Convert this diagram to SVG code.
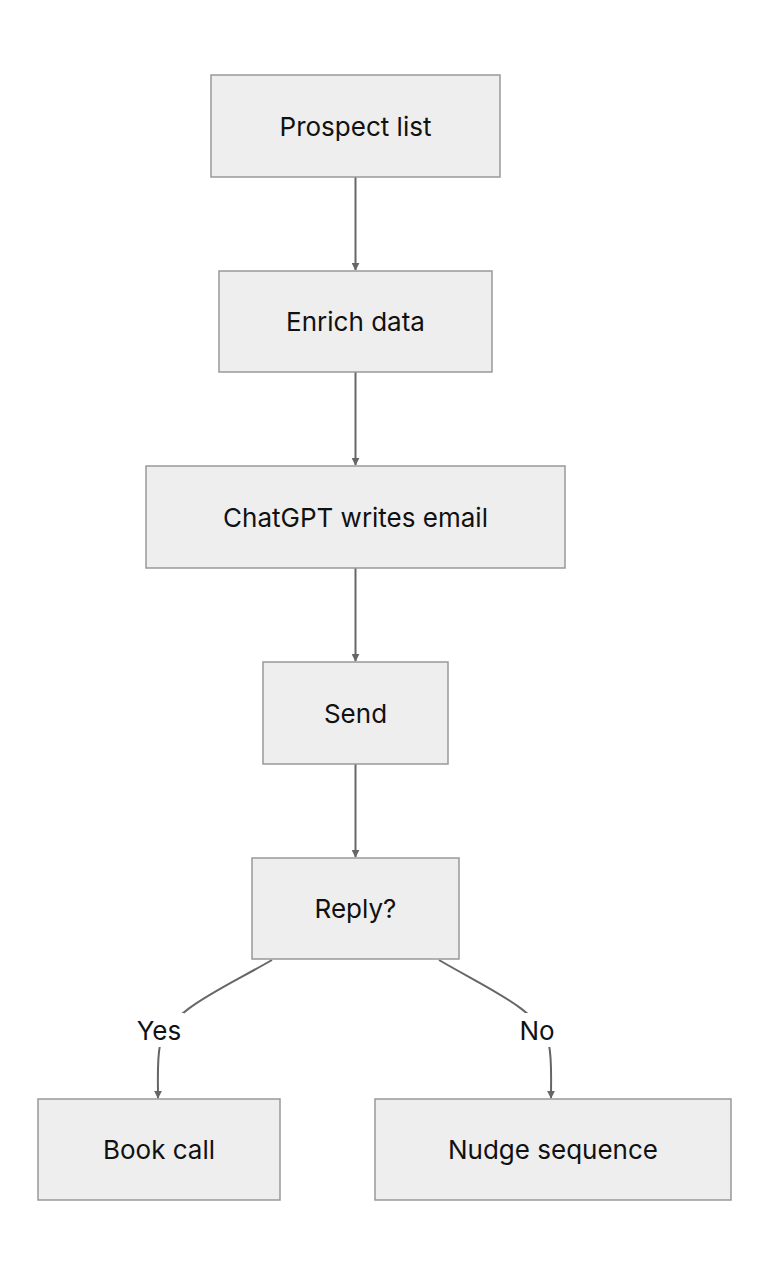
<svg xmlns="http://www.w3.org/2000/svg" width="768" height="1276" viewBox="0 0 768 1276">
<style>
.n rect{fill:#eeeeee;stroke:#999999;stroke-width:1.5}
.n text,.lbl{font-family:Inter,"Liberation Sans",sans-serif;font-size:26px;fill:#111;text-anchor:middle;dominant-baseline:central}
.e path{fill:none;stroke:#666;stroke-width:2;marker-end:url(#a)}
</style>
<defs><marker id="a" viewBox="0 0 10 10" refX="9" refY="5" markerWidth="8" markerHeight="8" orient="auto" markerUnits="userSpaceOnUse"><path d="M0,0L10,5L0,10z" fill="#666"/></marker></defs>
<rect width="768" height="1276" fill="#fff"/>
<g class="e">
<path d="M355.5,177V270"/>
<path d="M355.5,372V465"/>
<path d="M355.5,568V661"/>
<path d="M355.5,764V857"/>
<path d="M272,960C220,990 170,1010 160,1045C157,1060 158,1075 158,1098"/>
<path d="M439,960C490,990 540,1010 549,1045C552,1060 551,1075 551,1098"/>
</g>
<rect x="134" y="1013" width="50" height="34" fill="#fff"/>
<text class="lbl" x="159" y="1030">Yes</text>
<rect x="516" y="1013" width="42" height="34" fill="#fff"/>
<text class="lbl" x="537" y="1030">No</text>
<g id="prospect" class="n"><rect x="211" y="75" width="289" height="102"/><text x="355.5" y="126">Prospect list</text></g>
<g id="enrich" class="n"><rect x="219" y="271" width="273" height="101"/><text x="355.5" y="321.5">Enrich data</text></g>
<g id="chatgpt" class="n"><rect x="146" y="466" width="419" height="102"/><text x="355.5" y="517">ChatGPT writes email</text></g>
<g id="send" class="n"><rect x="263" y="662" width="185" height="102"/><text x="355.5" y="713">Send</text></g>
<g id="reply" class="n"><rect x="252" y="858" width="207" height="101"/><text x="355.5" y="908.5">Reply?</text></g>
<g id="book" class="n"><rect x="38" y="1099" width="242" height="101"/><text x="159" y="1149.5">Book call</text></g>
<g id="nudge" class="n"><rect x="375" y="1099" width="356" height="101"/><text x="553" y="1149.5">Nudge sequence</text></g>
</svg>
